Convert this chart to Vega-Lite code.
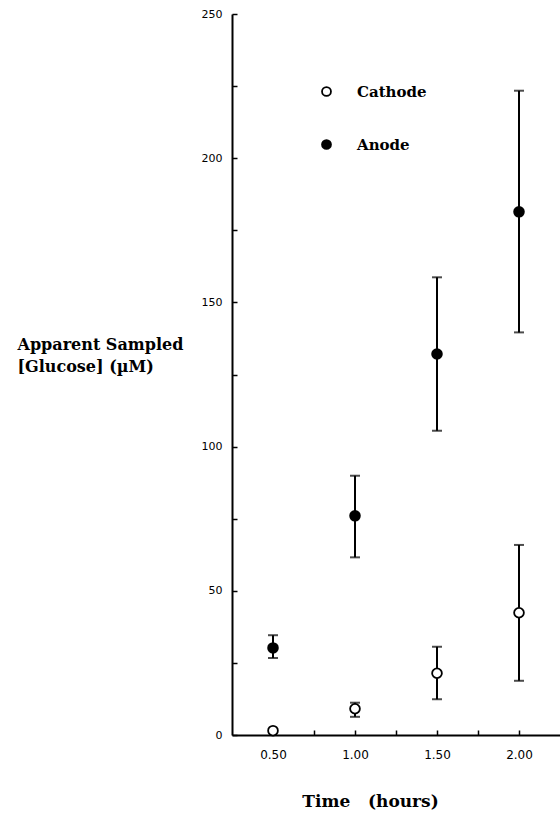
{
  "$schema": "https://vega.github.io/schema/vega-lite/v6.json",
  "autosize": {"type": "none"},
  "width": 328,
  "height": 721,
  "padding": {"left": 232, "top": 14, "right": 0, "bottom": 83},
  "background": "white",
  "config": {
    "view": {"stroke": null},
    "axis": {
      "domainColor": "black",
      "domainWidth": 2,
      "tickColor": "black",
      "tickWidth": 1.5,
      "grid": false,
      "labelColor": "black",
      "titleColor": "black"
    }
  },
  "data": {
    "values": [
      {"series": "Cathode", "time": 0.5, "glucose": 1.5, "lo": null, "hi": null},
      {"series": "Cathode", "time": 1.0, "glucose": 9.1, "lo": 6.3, "hi": 11.2},
      {"series": "Cathode", "time": 1.5, "glucose": 21.4, "lo": 12.4, "hi": 30.6},
      {"series": "Cathode", "time": 2.0, "glucose": 42.4, "lo": 18.8, "hi": 65.9},
      {"series": "Anode", "time": 0.5, "glucose": 30.2, "lo": 26.7, "hi": 34.6},
      {"series": "Anode", "time": 1.0, "glucose": 76.0, "lo": 61.6, "hi": 89.9},
      {"series": "Anode", "time": 1.5, "glucose": 132.1, "lo": 105.5, "hi": 158.7},
      {"series": "Anode", "time": 2.0, "glucose": 181.4, "lo": 139.6, "hi": 223.4}
    ]
  },
  "encoding": {
    "x": {
      "field": "time",
      "type": "quantitative",
      "scale": {"domain": [0.25, 2.25], "nice": false, "zero": false},
      "axis": {
        "values": [0.5, 0.75, 1.0, 1.25, 1.5, 1.75, 2.0],
        "labelExpr": "datum.value * 4 % 2 == 0 ? format(datum.value, '.2f') : ''",
        "tickSize": -5,
        "labelPadding": 19,
        "labelFont": "DejaVu Sans",
        "labelFontSize": 12,
        "title": "Time\u00a0\u00a0\u00a0(hours)",
        "titleFont": "DejaVu Serif",
        "titleFontSize": 17,
        "titleFontWeight": "bold",
        "titleX": 138,
        "titleY": 71,
        "titleAlign": "center",
        "titleBaseline": "alphabetic"
      }
    },
    "y": {
      "field": "glucose",
      "type": "quantitative",
      "scale": {"domain": [0, 250], "nice": false},
      "axis": {
        "values": [0, 25, 50, 75, 100, 125, 150, 175, 200, 225, 250],
        "labelExpr": "datum.value % 50 == 0 ? format(datum.value, 'd') : ''",
        "tickSize": -5,
        "labelPadding": 15,
        "labelFont": "DejaVu Sans",
        "labelFontSize": 11,
        "title": ["Apparent Sampled", "[Glucose] (\u00b5M)"],
        "titleFont": "DejaVu Serif",
        "titleFontSize": 16,
        "titleFontWeight": "bold",
        "titleAngle": 0,
        "titleAlign": "left",
        "titleBaseline": "alphabetic",
        "titleX": -215,
        "titleY": 335,
        "titleLineHeight": 22
      }
    }
  },
  "layer": [
    {
      "mark": {"type": "rule", "color": "black", "strokeWidth": 2},
      "encoding": {"y": {"field": "lo", "type": "quantitative"}, "y2": {"field": "hi"}}
    },
    {
      "mark": {"type": "tick", "orient": "horizontal", "color": "black", "thickness": 2, "size": 10},
      "encoding": {"y": {"field": "lo", "type": "quantitative"}}
    },
    {
      "mark": {"type": "tick", "orient": "horizontal", "color": "black", "thickness": 2, "size": 10},
      "encoding": {"y": {"field": "hi", "type": "quantitative"}}
    },
    {
      "mark": {"type": "point", "shape": "circle", "filled": false, "stroke": "black", "strokeWidth": 1.8, "size": 95, "opacity": 1},
      "encoding": {
        "fill": {
          "field": "series",
          "type": "nominal",
          "scale": {"domain": ["Cathode", "Anode"], "range": ["white", "black"]},
          "legend": {
            "title": null,
            "orient": "none",
            "legendX": 87,
            "legendY": 70,
            "padding": 0,
            "symbolType": "circle",
            "symbolSize": 80,
            "symbolStrokeColor": "black",
            "symbolStrokeWidth": 1.8,
            "labelFont": "DejaVu Serif",
            "labelFontSize": 15,
            "labelFontWeight": "bold",
            "labelColor": "black",
            "labelOffset": 23,
            "rowPadding": 36
          }
        }
      }
    }
  ]
}
